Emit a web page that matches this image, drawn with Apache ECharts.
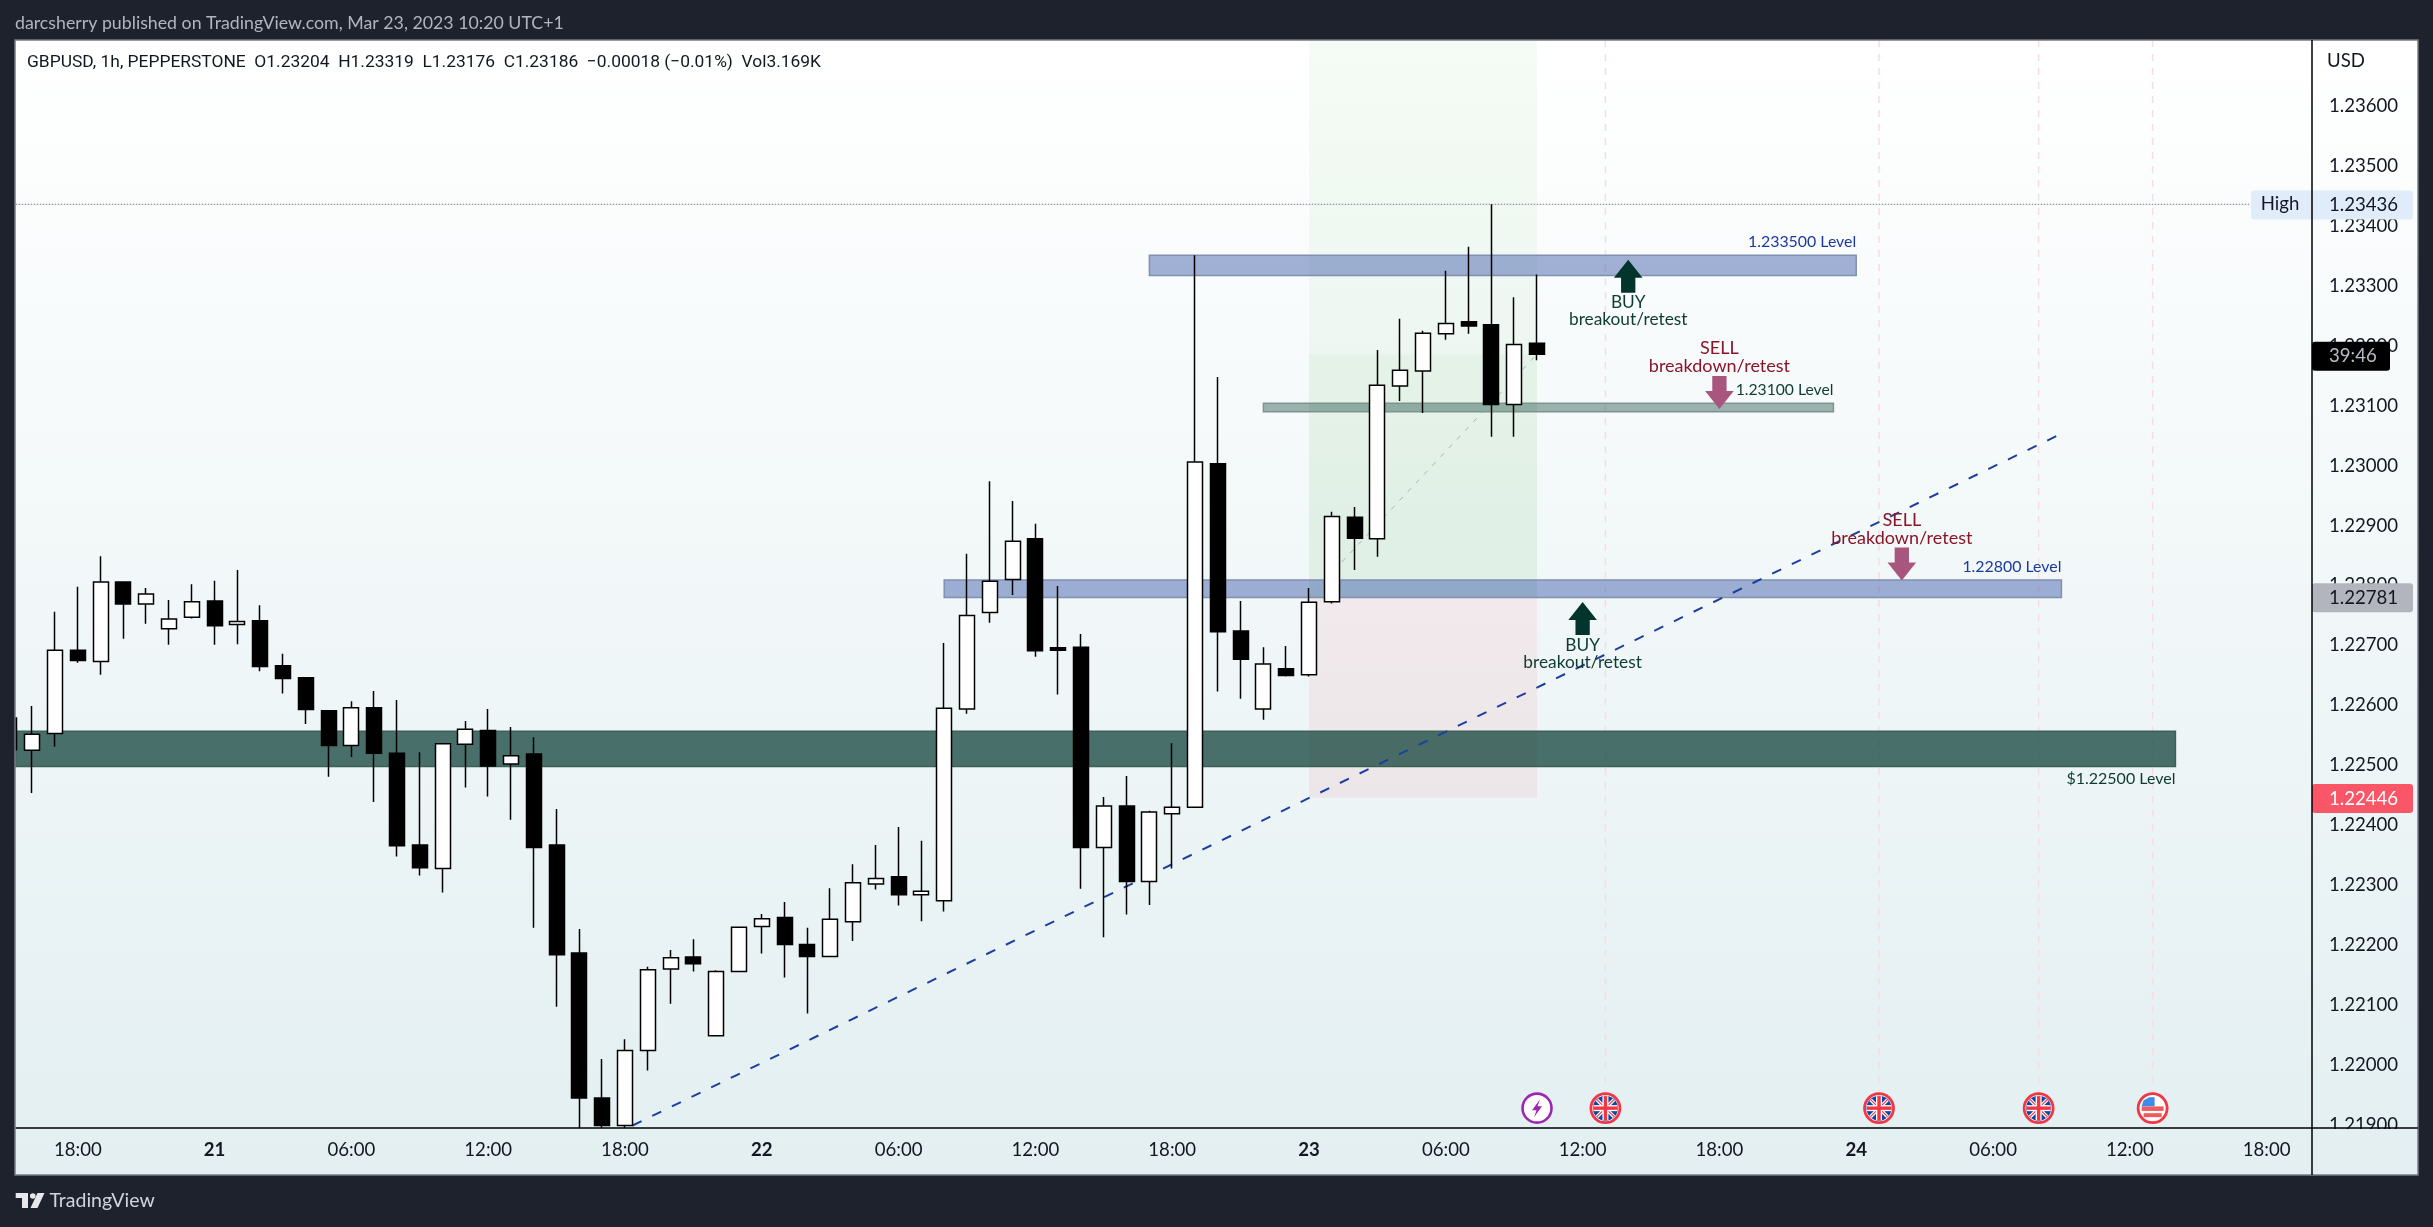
<!DOCTYPE html>
<html><head><meta charset="utf-8">
<style>html,body{margin:0;padding:0;background:#1e222d}#c{width:2433px;height:1227px}</style>
<script src="https://cdn.jsdelivr.net/npm/echarts@6/dist/echarts.min.js"></script>
</head><body><div id="c"></div>
<script>
// ---------- text ----------
const publishedText = 'darcsherry published on TradingView.com, Mar 23, 2023 10:20 UTC+1';
const legendText = 'GBPUSD, 1h, PEPPERSTONE  O1.23204  H1.23319  L1.23176  C1.23186  \u22120.00018 (\u22120.01%)  Vol3.169K';
// ---------- axes ----------
const xTickHours = [3,9,15,21,27,33,39,45,51,57,63,69,75,81,87,93,99];
const xTickLabels = ['18:00','21','06:00','12:00','18:00','22','06:00','12:00','18:00','23','06:00','12:00','18:00','24','06:00','12:00','18:00'];
const yTicks = [1.219,1.22,1.221,1.222,1.223,1.224,1.225,1.226,1.227,1.228,1.229,1.23,1.231,1.232,1.233,1.234,1.235,1.236];
const xMin = 0.276, xMax = 100.99, yMin = 1.218949, yMax = 1.237101;
// ---------- candles: hourly from Mar 20 15:00, [open, close, low, high] ----------
const candles = [
[1.22579,1.22526,1.22500,1.22590],[1.22525,1.22552,1.22454,1.22599],[1.22553,1.22692,1.22531,1.22756],
[1.22692,1.22675,1.22671,1.22798],[1.22673,1.22806,1.22651,1.22849],[1.22806,1.22769,1.22711,1.22807],
[1.22769,1.22786,1.22736,1.22796],[1.22728,1.22744,1.22701,1.22776],[1.22747,1.22773,1.22745,1.22802],
[1.22774,1.22733,1.22701,1.22808],[1.22735,1.22740,1.22702,1.22826],[1.22741,1.22665,1.22657,1.22767],
[1.22666,1.22645,1.22620,1.22686],[1.22646,1.22593,1.22569,1.22646],[1.22591,1.22533,1.22481,1.22592],
[1.22533,1.22596,1.22514,1.22607],[1.22596,1.22520,1.22439,1.22624],[1.22520,1.22366,1.22348,1.22609],
[1.22367,1.22329,1.22316,1.22522],[1.22328,1.22536,1.22288,1.22537],[1.22535,1.22560,1.22463,1.22574],
[1.22558,1.22499,1.22448,1.22594],[1.22502,1.22516,1.22409,1.22564],[1.22519,1.22363,1.22229,1.22547],
[1.22367,1.22184,1.22097,1.22427],[1.22187,1.21945,1.21895,1.22227],[1.21945,1.21899,1.21895,1.22010],
[1.21899,1.22024,1.21895,1.22043],[1.22024,1.22159,1.21991,1.22164],[1.22160,1.22179,1.22102,1.22192],
[1.22180,1.22169,1.22156,1.22210],[1.22049,1.22156,1.22049,1.22158],[1.22156,1.22230,1.22156,1.22231],
[1.22231,1.22244,1.22186,1.22252],[1.22246,1.22201,1.22146,1.22272],[1.22201,1.22181,1.22086,1.22229],
[1.22181,1.22243,1.22181,1.22295],[1.22239,1.22304,1.22207,1.22335],[1.22302,1.22311,1.22293,1.22367],
[1.22314,1.22284,1.22266,1.22397],[1.22284,1.22290,1.22240,1.22374],[1.22274,1.22595,1.22256,1.22704],
[1.22594,1.22750,1.22586,1.22853],[1.22755,1.22807,1.22738,1.22974],[1.22810,1.22874,1.22784,1.22941],
[1.22878,1.22691,1.22681,1.22903],[1.22696,1.22692,1.22618,1.22799],[1.22697,1.22363,1.22294,1.22719],
[1.22363,1.22432,1.22213,1.22447],[1.22432,1.22306,1.22251,1.22482],[1.22306,1.22422,1.22267,1.22424],
[1.22419,1.22430,1.22328,1.22537],[1.22430,1.23006,1.22430,1.23351],[1.23003,1.22723,1.22623,1.23148],
[1.22724,1.22677,1.22611,1.22774],[1.22594,1.22669,1.22576,1.22697],[1.22661,1.22650,1.22648,1.22699],
[1.22651,1.22772,1.22648,1.22796],[1.22773,1.22915,1.22770,1.22923],[1.22914,1.22879,1.22826,1.22931],
[1.22878,1.23134,1.22848,1.23193],[1.23133,1.23159,1.23108,1.23245],[1.23158,1.23221,1.23088,1.23225],
[1.23220,1.23237,1.23210,1.23325],[1.23240,1.23233,1.23220,1.23365],[1.23235,1.23102,1.23048,1.23436],
[1.23102,1.23202,1.23048,1.23281],[1.23204,1.23186,1.23176,1.23319]
];
// ---------- drawings (hour index, price) ----------
const zoneStart = [57,57,57,50,55,41,xMin];
const zoneEnd   = [67,67,67,81,80,90,95];
const zoneHigh  = [yMax,1.23186,1.22781,1.23351,1.23104,1.22809,1.22557];
const zoneLow   = [1.23186,1.22781,1.22446,1.23317,1.23090,1.22780,1.22498];
const trendHours = [27,90.2], trendPrices = [1.21893,1.23057];
const positionHours = [57,67], positionPrices = [1.22781,1.23186];
const highLineHours = [xMin,98.3], highPrice = 1.23436;
const eventHours = [70,82,89,94], iconHours = [67,70,82,89,94], iconPrice = 1.21928;
const arrowUpHours = [71,69], arrowUpPrices = [1.23316,1.22745];
const arrowDownHours = [75,83], arrowDownPrices = [1.23122,1.22836];
const noteHours  = [71,75,83,69];
const notePrices = [1.23258,1.23181,1.22894,1.22686];
const noteTexts  = ['BUY\nbreakout/retest','SELL\nbreakdown/retest','SELL\nbreakdown/retest','BUY\nbreakout/retest'];
const levelHours  = [81,80,90,95];
const levelPrices = [1.23374,1.23126,1.22831,1.22478];
const levelTexts  = ['1.233500 Level','1.23100 Level','1.22800 Level','$1.22500 Level'];
const tagPrices = [1.23436,1.23184,1.22781,1.22446];
const tagTexts  = ['1.23436','39:46','1.22781','1.22446'];

// ---------- styles ----------
const FONT = 'Lato';
const zoneStyles = [
 {fill:'rgba(76,175,80,0.055)'},{fill:'rgba(76,175,80,0.105)'},{fill:'rgba(242,54,69,0.07)'},
 {fill:'rgba(41,73,160,0.425)',stroke:'#8090ae'},{fill:'rgba(8,60,50,0.385)',stroke:'#7d9490'},
 {fill:'rgba(41,73,160,0.425)',stroke:'#8090ae'},{fill:'rgba(8,60,50,0.72)',stroke:'#3d5f58'}];
const noteStyles = [{c:'#0d3b31',s:17.3,lh:16.5},{c:'#8a1529',s:18,lh:18.5},{c:'#8a1529',s:18,lh:18.5},{c:'#0d3b31',s:17.3,lh:16.5}];
const levelColors = ['#1a3a9c','#0d3b31','#1a3a9c','#0d3b31'];
const levelSizes = [15.9,15.7,15.9,16];
const tagStyles = [
 {bg:'#e1ecfa',fg:'#131722',w:101,extra:61},{bg:'#000000',fg:'#b8bcc6',w:78,extra:0},
 {bg:'#b2b5be',fg:'#131722',w:101,extra:0},{bg:'#f95668',fg:'#ffffff',w:101,extra:0}];
const iconKinds = ['bolt','uk','uk','uk','us'];

function iconChildren(kind,p,q){
  const L=(a,b,c,d,col,w)=>({type:'line',shape:{x1:p+a,y1:q+b,x2:p+c,y2:q+d},style:{stroke:col,lineWidth:w}});
  const ring=(col,w,f)=>({type:'circle',shape:{cx:p,cy:q,r:14.5},style:{fill:f,stroke:col,lineWidth:w}});
  if(kind==='bolt'){
    return [ring('#9c27b0',2.6,'#ffffff'),
      {type:'polygon',shape:{points:[[p+3,q-9],[p-5,q+2],[p-0.5,q+2],[p-3,q+9],[p+5,q-2],[p+0.5,q-2]]},style:{fill:'#9c27b0'}}];
  }
  if(kind==='uk'){
    return [{type:'circle',shape:{cx:p,cy:q,r:14},style:{fill:'#ffffff'}},
      {type:'circle',shape:{cx:p,cy:q,r:12.5},style:{fill:'#0d47a1'}},
      L(-8.5,-8.5,8.5,8.5,'#ffffff',3.5),L(-8.5,8.5,8.5,-8.5,'#ffffff',3.5),
      L(-8.5,-8.5,8.5,8.5,'#f23645',1.2),L(-8.5,8.5,8.5,-8.5,'#f23645',1.2),
      L(-12,0,12,0,'#ffffff',6),L(0,-12,0,12,'#ffffff',6),
      L(-12,0,12,0,'#f23645',3.4),L(0,-12,0,12,'#f23645',3.4),
      ring('#f23645',2.8,'transparent')];
  }
  const kids=[{type:'circle',shape:{cx:p,cy:q,r:14},style:{fill:'#ffffff'}},
    L(-11,0.5,11,0.5,'#f05a5a',4.5),L(-9,7,9,7,'#f05a5a',4),
    {type:'polygon',shape:{points:[[p-11,q-2],[p-9,q-8],[p-3,q-11],[p+2,q-11],[p+2,q-2]]},style:{fill:'#3d8bea'}}];
  return kids.concat([ring('#f23645',2.8,'transparent')]);
}

const ARROW_UP = 'path://M14.3 0 L28.6 18 L21.45 18 L21.45 33 L7.15 33 L7.15 18 L0 18 Z';
const ARROW_DOWN = 'path://M7.15 0 L21.45 0 L21.45 15 L28.6 15 L14.3 33 L0 15 L7.15 15 Z';

const chart = echarts.init(document.getElementById('c'), null, {renderer:'canvas'});
const bgGrad = new echarts.graphic.LinearGradient(0,0,0,1,[{offset:0,color:'#ffffff'},{offset:1,color:'#e3eff1'}]);
const option = {
  animation:false,
  backgroundColor:'#1e222d',
  textStyle:{fontFamily:FONT},
  grid:{left:15.7,right:121,top:40,bottom:99,containLabel:false},
  xAxis:{type:'value',min:xMin,max:xMax,splitLine:{show:false},axisLine:{show:false},
    axisTick:{show:false},
    axisLabel:{customValues:xTickHours,margin:12,color:'#131722',fontSize:18.6,fontFamily:FONT,
      formatter:v=>{const t=xTickLabels[xTickHours.indexOf(v)]||'';return t.length<3?'{b|'+t+'}':t;},
      rich:{b:{fontWeight:'bold',fontSize:18.6,fontFamily:FONT,color:'#131722'}}}},
  yAxis:{type:'value',position:'right',min:yMin,max:yMax,splitLine:{show:false},axisLine:{show:false},axisTick:{show:false},
    axisLabel:{customValues:yTicks,margin:17,color:'#131722',fontSize:18.6,fontFamily:FONT,padding:[2,0,0,0],formatter:v=>v.toFixed(5)}},
  graphic:[
    {type:'rect',z:-100,shape:{x:15,y:40,width:2403,height:1135},style:{fill:bgGrad}},
    {type:'rect',z:40,shape:{x:0,y:40,width:15,height:1135},style:{fill:'#1e222d'}},
    {type:'rect',z:45,shape:{x:15,y:40,width:2403,height:1135},style:{fill:'transparent',stroke:'#787b86',lineWidth:1.5}},
    {type:'rect',z:40,shape:{x:2313,y:1129,width:104,height:45},style:{fill:'#e3eff1'}},
    {type:'line',z:50,shape:{x1:15.7,y1:1128,x2:2418,y2:1128},style:{stroke:'#000000',lineWidth:1.5}},
    {type:'line',z:50,shape:{x1:2312,y1:40,x2:2312,y2:1175},style:{stroke:'#000000',lineWidth:1.5}},
    {type:'text',z:60,x:15,y:23,style:{text:publishedText,fill:'#b2b5be',font:'17.75px '+FONT,verticalAlign:'middle'}},
    {type:'text',z:60,x:27,y:62.5,style:{text:legendText,fill:'#131722',font:'17.4px Roboto',verticalAlign:'middle'}},
    {type:'text',z:60,x:2327,y:61,style:{text:'USD',fill:'#131722',font:'18.6px '+FONT,verticalAlign:'middle'}},
    {type:'text',z:60,x:49.5,y:1201,style:{text:'TradingView',fill:'#d1d4dc',font:'19.5px '+FONT,verticalAlign:'middle'}},
    {type:'polygon',z:60,shape:{points:[[15.7,1193],[28,1193],[28,1208],[22,1208],[22,1198],[15.7,1198]]},style:{fill:'#e6e8ee'}},
    {type:'circle',z:60,shape:{cx:32.8,cy:1196,r:2.8},style:{fill:'#e6e8ee'}},
    {type:'polygon',z:60,shape:{points:[[37.5,1193],[44.5,1193],[37.5,1208],[30.5,1208]]},style:{fill:'#e6e8ee'}}
  ],
  series:[
    {type:'custom',name:'events',z:1,silent:true,data:eventHours.map(h=>[h,yMax,iconPrice]),encode:{x:0,y:[1,2]},
      renderItem:(params,api)=>{
        const a=api.coord([api.value(0),api.value(1)]),b=api.coord([api.value(0),api.value(2)]);
        return {type:'line',shape:{x1:a[0],y1:a[1],x2:b[0],y2:b[1]-15},style:{stroke:'#f9dbe2',lineWidth:1.5,lineDash:[7,7]}};
      }},
    {type:'custom',name:'zones',z:1,clip:true,silent:true,
      data:zoneStart.map((s,i)=>[s,zoneHigh[i],zoneEnd[i],zoneLow[i]]),
      encode:{x:[0,2],y:[1,3]},
      renderItem:(params,api)=>{
        const a=api.coord([api.value(0),api.value(1)]),b=api.coord([api.value(2),api.value(3)]);
        const st=zoneStyles[params.dataIndex];
        return {type:'rect',shape:{x:a[0],y:a[1],width:b[0]-a[0],height:b[1]-a[1]},
          style:{fill:st.fill,stroke:st.stroke||null,lineWidth:st.stroke?1.5:0}};
      }},
    {type:'line',name:'position',z:2,silent:true,symbol:'none',data:positionHours.map((h,i)=>[h,positionPrices[i]]),
      lineStyle:{color:'rgba(140,155,170,0.7)',width:1,type:[5,7]}},
    {type:'line',name:'high',z:2,silent:true,symbol:'none',data:highLineHours.map(h=>[h,highPrice]),
      lineStyle:{color:'#787b86',width:1,type:[1.5,1.5]}},
    {type:'line',name:'trend',z:2,silent:true,symbol:'none',clip:true,data:trendHours.map((h,i)=>[h,trendPrices[i]]),
      lineStyle:{color:'#1c3f9e',width:2,type:[10,11.83],dashOffset:13.43}},
    {type:'candlestick',name:'GBPUSD',z:3,barWidth:15.5,silent:true,clip:true,
      data:candles.map((c,i)=>[i,c[0],c[1],c[2],c[3]]),
      encode:{x:0,y:[1,2,3,4]},
      itemStyle:{color:'#ffffff',color0:'#000000',borderColor:'#000000',borderColor0:'#000000',borderWidth:1.5}},
    {type:'scatter',name:'buy',z:5,silent:true,symbol:ARROW_UP,symbolSize:[28.6,33],
      data:arrowUpHours.map((h,i)=>[h,arrowUpPrices[i]]),itemStyle:{color:'#03352c',opacity:1}},
    {type:'scatter',name:'sell',z:5,silent:true,symbol:ARROW_DOWN,symbolSize:[28.6,33],
      data:arrowDownHours.map((h,i)=>[h,arrowDownPrices[i]]),itemStyle:{color:'#a9567f',opacity:1}},
    {type:'custom',name:'notes',z:6,silent:true,data:noteHours.map((h,i)=>[h,notePrices[i]]),encode:{x:0,y:1},
      renderItem:(params,api)=>{
        const p=api.coord([api.value(0),api.value(1)]),st=noteStyles[params.dataIndex];
        return {type:'text',style:{text:noteTexts[params.dataIndex],x:p[0],y:p[1],fill:st.c,
          font:st.s+'px '+FONT,align:'center',verticalAlign:'middle',lineHeight:st.lh}};
      }},
    {type:'custom',name:'levels',z:6,silent:true,data:levelHours.map((h,i)=>[h,levelPrices[i]]),encode:{x:0,y:1},
      renderItem:(params,api)=>{
        const p=api.coord([api.value(0),api.value(1)]);
        return {type:'text',style:{text:levelTexts[params.dataIndex],x:p[0],y:p[1],fill:levelColors[params.dataIndex],
          font:levelSizes[params.dataIndex]+'px '+FONT,align:'right',verticalAlign:'middle'}};
      }},
    {type:'custom',name:'icons',z:7,silent:true,data:iconHours.map(h=>[h,iconPrice]),encode:{x:0,y:1},
      renderItem:(params,api)=>{
        const p=api.coord([api.value(0),api.value(1)]);
        return {type:'group',children:iconChildren(iconKinds[params.dataIndex],p[0],p[1])};
      }},
    {type:'custom',name:'tags',z:8,silent:true,data:tagPrices.map(v=>[xMax,v]),encode:{x:0,y:1},
      renderItem:(params,api)=>{
        const p=api.coord([api.value(0),api.value(1)]),st=tagStyles[params.dataIndex];
        const kids=[{type:'rect',shape:{x:p[0]-st.extra,y:p[1]-13.7,width:st.w+st.extra,height:29,r:3},style:{fill:st.bg}},
          {type:'text',style:{text:tagTexts[params.dataIndex],x:p[0]+17,y:p[1]+1,fill:st.fg,font:'18.6px '+FONT,verticalAlign:'middle'}}];
        if(st.extra) kids.push({type:'text',style:{text:'High',x:p[0]-32,y:p[1],fill:st.fg,font:'18.6px '+FONT,align:'center',verticalAlign:'middle'}});
        return {type:'group',children:kids};
      }}
  ]
};
chart.setOption(option);
</script></body></html>
